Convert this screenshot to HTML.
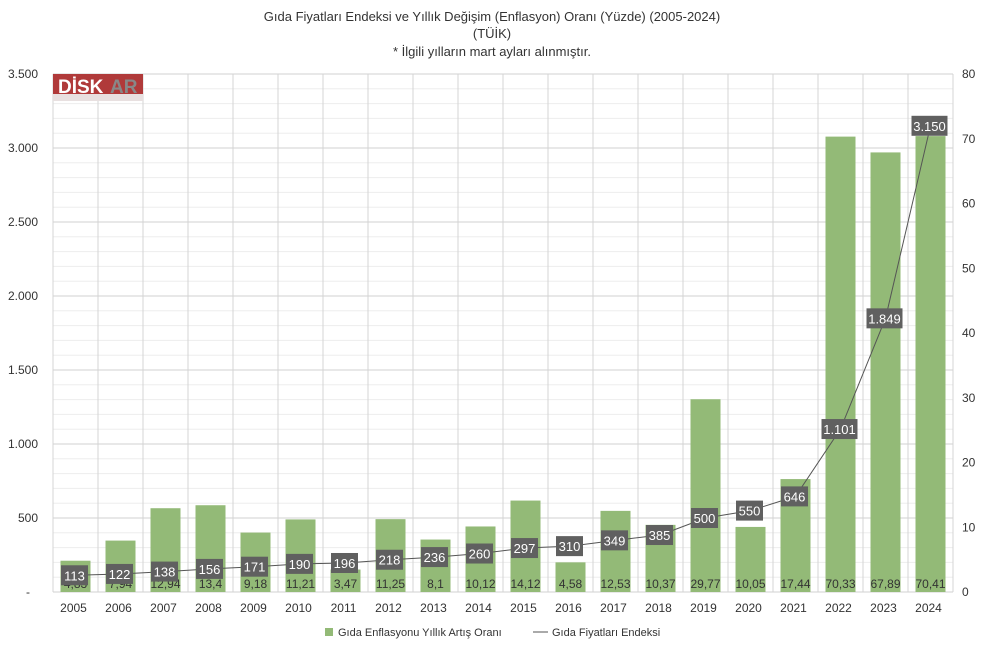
<!DOCTYPE html>
<html><head><meta charset="utf-8"><style>
body{margin:0;background:#fff;}
svg text{font-family:"Liberation Sans",sans-serif;}
</style></head><body>
<svg width="985" height="647" xmlns="http://www.w3.org/2000/svg">
<rect width="985" height="647" fill="#fff"/>
<text x="492" y="21" font-size="13" text-anchor="middle" fill="#333">Gıda Fiyatları Endeksi ve Yıllık Değişim (Enflasyon) Oranı (Yüzde) (2005-2024)</text>
<text x="492" y="38" font-size="13" text-anchor="middle" fill="#333">(TÜİK)</text>
<text x="492" y="56" font-size="13" text-anchor="middle" fill="#333">* İlgili yılların mart ayları alınmıştır.</text>
<g id="grid"></g>
<g id="bars"></g>
<g id="line"></g>
<g id="labels"></g>
<rect x="53" y="74" width="90" height="26" fill="#b03a3a"/>
<rect x="53" y="94" width="90" height="7" fill="#e8e0e0"/>
<text x="58" y="93" font-size="19" font-weight="bold" fill="#fff">DİSK</text>
<text x="110" y="93" font-size="19" font-weight="bold" fill="#888">AR</text>
<g font-size="12" fill="#333">
<text x="38" y="78" text-anchor="end">3.500</text>
<text x="38" y="152" text-anchor="end">3.000</text>
<text x="38" y="300" text-anchor="end">2.000</text>
<text x="38" y="226" text-anchor="end">2.500</text>
<text x="38" y="374" text-anchor="end">1.500</text>
<text x="38" y="448" text-anchor="end">1.000</text>
<text x="38" y="522" text-anchor="end">500</text>
<text x="30" y="596" text-anchor="end">-</text>
</g>
<g font-size="12" fill="#333" id="raxis"></g>
<g font-size="12" fill="#333" id="xaxis"></g>
<rect x="325" y="628" width="8" height="8" fill="#93ba77"/>
<text x="338" y="636" font-size="11" fill="#333">Gıda Enflasyonu Yıllık Artış Oranı</text>
<line x1="533" y1="632" x2="548" y2="632" stroke="#555"/>
<text x="552" y="636" font-size="11" fill="#333">Gıda Fiyatları Endeksi</text>
</svg>
<script>
const ns="http://www.w3.org/2000/svg";
function el(p,t,a,txt){const e=document.createElementNS(ns,t);for(const k in a)e.setAttribute(k,a[k]);if(txt!==undefined)e.textContent=txt;document.getElementById(p).appendChild(e);return e;}
const inf=[4.83,7.94,12.94,13.4,9.18,11.21,3.47,11.25,8.1,10.12,14.12,4.58,12.53,10.37,29.77,10.05,17.44,70.33,67.89,70.41];
const idx=[113,122,138,156,171,190,196,218,236,260,297,310,349,385,500,550,646,1101,1849,3150];
const L=53,R=953,T=74,B=592,H=B-T;
for(let i=0;i<=35;i++){const y=B-i*H/35;el("grid","line",{x1:L,x2:R,y1:y,y2:y,stroke:i%5==0?"#d0d0d0":"#ededed","stroke-width":1});}
for(let i=0;i<=20;i++){const x=L+45*i;el("grid","line",{x1:x,x2:x,y1:T,y2:B,stroke:"#d4d4d4"});}
for(let i=0;i<=8;i++){el("raxis","text",{x:962,y:B-i*H/8+4},String(i*10));}
let pts=[];
for(let i=0;i<20;i++){
 const c=75.5+45*i;
 const h=inf[i]/80*H;
 el("bars","rect",{x:c-15,y:B-h,width:30,height:h,fill:"#93ba77"});
 el("xaxis","text",{x:c-2,y:612,"text-anchor":"middle"},String(2005+i));
 const y=B-idx[i]/3500*H;pts.push(c+","+y);
 el("labels","text",{x:c,y:588,"text-anchor":"middle","font-size":"12",fill:"#333"},String(inf[i]).replace(".",","));
 const s=idx[i]>=1000?(String(idx[i]).slice(0,-3)+"."+String(idx[i]).slice(-3)):String(idx[i]);
 const w=s.length>3?36:27;
 el("labels","rect",{x:c-w/2-1,y:y-10,width:w,height:20,fill:"#606060"});
 el("labels","text",{x:c-1,y:y+5,"text-anchor":"middle","font-size":"13",fill:"#fff"},s);
}
el("line","polyline",{points:pts.join(" "),fill:"none",stroke:"#555","stroke-width":1});
</script>
</body></html>
